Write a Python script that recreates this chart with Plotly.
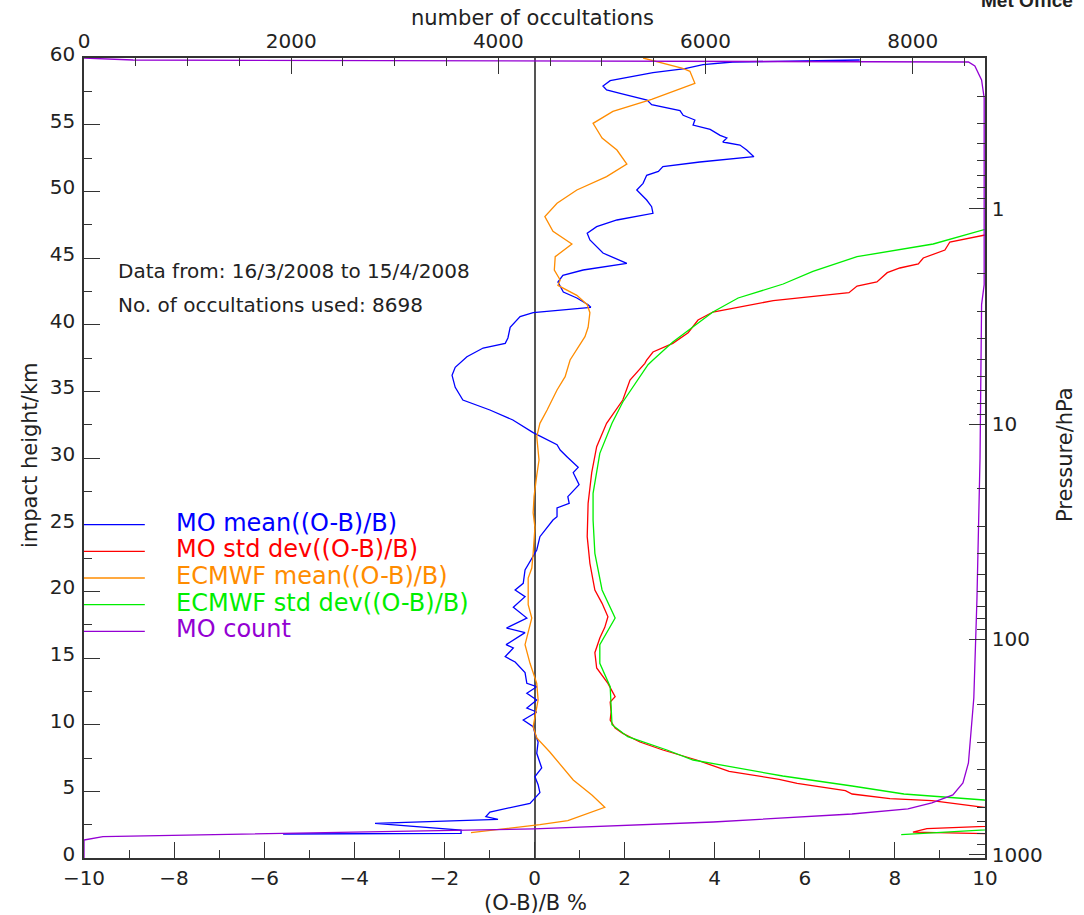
import plotly.graph_objects as go

# ---------------- data ----------------
# MO mean((O-B)/B) : impact height (km) and value (%)
mo_mean_h = [59.85, 59.7, 59.5, 59.2, 58.9, 58.3, 57.9, 57.6, 57.35, 56.85, 56.5, 56.05, 55.7,
             55.35, 54.97, 54.65, 54.2, 54.0, 53.7, 53.47, 53.1, 52.6, 52.2, 51.85, 51.5, 51.2,
             50.6, 50.1, 49.35, 48.85, 48.35, 47.85, 47.35, 46.85, 46.35, 45.37, 44.6, 44.1,
             43.7, 43.2, 42.45, 42.0, 41.5, 41.3, 40.9, 40.6, 39.8, 39.0, 38.6, 38.25, 37.6,
             36.8, 36.2, 35.3, 34.35, 33.6, 32.85, 31.9, 31.0, 30.6, 30.1, 29.3, 28.9, 28.0,
             27.1, 26.6, 26.25, 25.6, 25.35, 24.1, 23.1, 21.6, 20.6, 20.1, 19.6, 18.8, 18.0,
             17.25, 16.9, 16.0, 15.75, 15.1, 14.7, 13.9, 13.1, 12.85, 12.35, 11.85, 11.25,
             10.95, 10.35, 9.85, 9.35, 8.7, 7.85, 6.75, 6.1, 5.5, 4.9, 4.35, 4.1, 3.45, 3.1,
             2.9, 2.6, 2.1, 1.85, 1.8]
mo_mean_v = [7.22, 4.4, 3.74, 3.34, 2.63, 1.68, 1.52, 1.6, 1.9, 2.5, 2.6, 3.23, 3.3,
             3.56, 3.52, 3.9, 4.12, 4.27, 4.18, 4.56, 4.71, 4.87, 3.67, 2.85, 2.75, 2.49,
             2.41, 2.27, 2.49, 2.6, 2.63, 1.83, 1.38, 1.17, 1.23, 1.52, 2.05, 1.08,
             0.63, 0.52, 0.64, 0.94, 1.19, 1.25, -0.03, -0.32, -0.54, -0.59, -0.65, -1.14, -1.5,
             -1.76, -1.83, -1.76, -1.59, -0.99, -0.48, -0.03, 0.5, 0.57, 0.72, 0.97, 0.86, 0.99,
             0.74, 0.77, 0.5, 0.5, 0.41, 0.12, 0.05, -0.21, -0.25, -0.43, -0.21, -0.47, -0.17,
             -0.62, -0.21, -0.63, -0.47, -0.65, -0.43, -0.21, -0.17, 0.05, -0.17, 0.05, -0.17,
             0.05, -0.25, -0.03, 0.01, 0.08, 0.05, 0.16, 0.01, 0.08, 0.12, -0.03, -0.1, -0.99, -1.08,
             -0.81, -3.54, -1.63, -1.63, -5.58]

# MO std dev((O-B)/B)
mo_std_h = [47.4, 46.7, 46.2, 45.6, 45.0, 44.55, 44.25, 43.9, 43.2, 42.9, 42.4, 41.8, 41.3,
            40.95, 40.35, 39.4, 38.6, 37.95, 37.35, 37.1, 35.85, 34.35, 32.6, 30.85, 28.9,
            26.6, 24.1, 22.1, 20.1, 19.1, 18.1, 17.3, 16.5, 15.4, 14.25, 13.6, 13.1, 12.1,
            11.7, 10.95, 10.35, 9.75, 9.35, 8.7, 8.1, 7.35, 6.5, 5.9, 5.6, 5.05, 4.8, 4.45,
            4.3, 3.8, 3.6, 2.5, 2.35, 2.2, 1.94, 1.83, 1.75]
mo_std_v = [11.0, 9.96, 9.22, 9.11, 8.63, 8.52, 8.11, 7.83, 7.6, 7.16, 6.98, 5.3, 4.56,
            3.96, 3.63, 3.41, 3.07, 2.63, 2.49, 2.45, 2.12, 1.96, 1.6, 1.38, 1.27,
            1.19, 1.17, 1.23, 1.34, 1.5, 1.63, 1.56, 1.45, 1.34, 1.38, 1.52, 1.63, 1.79,
            1.68, 1.7, 1.68, 1.79, 1.96, 2.34, 2.85, 3.6, 4.32, 5.43, 5.83, 6.9, 7.05, 7.89,
            8.82, 9.98, 11.0, 11.0, 9.98, 8.71, 8.4, 9.98, 11.0]

# ECMWF mean((O-B)/B)
ec_mean_h = [60.0, 59.25, 59.0, 58.1, 56.9, 56.0, 55.1, 54.0, 53.1, 52.05, 51.1, 50.1, 49.1,
             48.1, 47.0, 46.05, 45.1, 44.1, 43.35, 42.95, 42.2, 41.5, 40.9, 39.8, 39.1, 38.1,
             37.35, 36.1, 35.1, 33.6, 32.6, 31.6, 29.85, 28.7, 27.1, 25.9, 24.8, 22.85, 21.75,
             21.0, 19.0, 18.0, 16.0, 14.6, 13.1, 11.85, 9.85, 9.0, 7.95, 5.85, 4.7, 3.8, 2.8,
             2.5, 1.9]
ec_mean_v = [2.41, 3.27, 3.45, 3.56, 2.6, 1.74, 1.3, 1.5, 1.83, 2.05, 1.6, 0.94, 0.5,
             0.23, 0.41, 0.83, 0.46, 0.44, 0.57, 0.52, 0.94, 1.17, 1.23, 1.19, 1.12, 0.94,
             0.79, 0.68, 0.5, 0.28, 0.12, 0.05, 0.1, 0.05, -0.01, -0.03, 0.01, -0.03, -0.06,
             -0.14, -0.14, -0.06, -0.21, -0.1, 0.05, 0.08, -0.03, 0.05, 0.34, 0.86, 1.28, 1.56, 0.74,
             0.12, -1.41]

# ECMWF std dev((O-B)/B)
ec_std_h = [48.1, 47.1, 46.05, 45.1, 44.0, 43.05, 42.0, 40.95, 38.7, 37.35, 37.0, 34.2, 32.6,
            30.35, 27.35, 25.35, 22.85, 20.1, 18.0, 16.0, 14.6, 12.85, 10.0, 9.1, 8.1, 7.35,
            6.9, 6.15, 5.4, 4.8, 4.35, 4.1, 2.3, 2.1, 1.75]
ec_std_v = [11.0, 9.96, 8.85, 7.16, 6.18, 5.52, 4.52, 3.96, 3.07, 2.63, 2.52, 1.96, 1.72,
            1.45, 1.3, 1.3, 1.34, 1.5, 1.79, 1.45, 1.45, 1.68, 1.72, 2.07, 2.94, 3.52,
            4.27, 5.51, 7.05, 8.2, 9.98, 11.0, 11.0, 9.98, 8.14]

# MO count (number of occultations)
mo_count_h = [0.0, 1.35, 1.6, 2.18, 2.7, 3.3, 3.68, 4.13, 4.73, 5.63, 7.13, 9.0, 12.0, 19.35,
              30.0, 41.5, 43.0, 57.0, 58.35, 59.4, 59.7, 59.85, 60.0]
mo_count_n = [0, 0, 183, 4344, 6073, 7413, 7954, 8185, 8388, 8485, 8538, 8560, 8590, 8620,
              8650, 8665, 8690, 8690, 8665, 8600, 8538, 473, 0]

n_occ = 8698
legend_names = ["MO mean((O-B)/B)", "MO std dev((O-B)/B)", "ECMWF mean((O-B)/B)",
                "ECMWF std dev((O-B)/B)", "MO count"]
legend_heights = [25, 23, 21, 19, 17]
info_lines = ["Data from: 16/3/2008 to 15/4/2008", "No. of occultations used: " + str(n_occ)]
pressure_ticks = [1, 10, 100, 1000]
axis_titles = {"bottom": "(O-B)/B %", "top": "number of occultations",
               "left": "impact height/km", "right": "Pressure/hPa"}

# ---------------- styling ----------------
colors = ["#0000ff", "#ff0000", "#ff8c00", "#00ee00", "#9400d3"]
FONT = "DejaVu Sans"
AX = "#333333"
TXT = "#222222"

fig = go.Figure()
series = [(mo_mean_v, mo_mean_h), (mo_std_v, mo_std_h), (ec_mean_v, ec_mean_h), (ec_std_v, ec_std_h)]
for (xv, yv), name, c in zip(series, legend_names[:4], colors[:4]):
    fig.add_trace(go.Scatter(x=xv, y=yv, mode="lines", name=name,
                             line=dict(color=c, width=1.3), showlegend=False))
fig.add_trace(go.Scatter(x=mo_count_n, y=mo_count_h, mode="lines", name=legend_names[4],
                         xaxis="x2", yaxis="y", line=dict(color=colors[4], width=1.3),
                         showlegend=False))
# carrier for the pressure axis
fig.add_trace(go.Scatter(x=[None], y=[None], xaxis="x", yaxis="y2", mode="lines",
                         showlegend=False, hoverinfo="skip"))

tickfont = dict(family=FONT, size=20, color=TXT)
titlefont = dict(family=FONT, size=21, color=TXT)

fig.update_layout(
    width=1084, height=915,
    margin=dict(l=84, r=99, t=58, b=57),
    paper_bgcolor="white", plot_bgcolor="white",
    font=dict(family=FONT, color=TXT),
    xaxis=dict(range=[-10, 10], dtick=2, tick0=0, ticks="inside", ticklen=16, tickwidth=1.3,
               tickcolor=AX, showline=True, linecolor=AX, linewidth=1.5, mirror=False,
               showgrid=False, zeroline=True, zerolinecolor="#555555", zerolinewidth=1.5,
               tickfont=tickfont, ticklabelstandoff=1,
               minor=dict(dtick=1, ticks="inside", ticklen=8, tickcolor=AX, showgrid=False),
               automargin=False),
    xaxis2=dict(range=[0, n_occ], overlaying="x", side="top", anchor="y", dtick=2000, tick0=0,
                ticks="inside", ticklen=16, tickwidth=1.3, tickcolor=AX, showline=True,
                linecolor=AX, linewidth=1.5, showgrid=False, zeroline=False,
                tickfont=tickfont, ticklabelstandoff=0,
                minor=dict(dtick=500, ticks="inside", ticklen=8, tickcolor=AX, showgrid=False),
                automargin=False),
    yaxis=dict(range=[0, 60], dtick=5, tick0=0, ticks="inside", ticklen=16, tickwidth=1.3,
               tickcolor=AX, showline=True, linecolor=AX, linewidth=1.5, showgrid=False,
               zeroline=False, tickfont=tickfont, ticklabelstandoff=3, ticklabelshift=-4,
               minor=dict(dtick=2.5, ticks="inside", ticklen=8, tickcolor=AX, showgrid=False),
               automargin=False),
    yaxis2=dict(type="log", range=[3.015, -0.70], overlaying="y", side="right", anchor="x",
                tickmode="array", tickvals=pressure_ticks, ticktext=[str(p) for p in pressure_ticks],
                ticks="inside", ticklen=16, tickwidth=1.3, tickcolor=AX, showline=True,
                linecolor=AX, linewidth=1.5, showgrid=False, zeroline=False,
                tickfont=tickfont, ticklabelstandoff=1,
                minor=dict(dtick="D1", ticks="inside", ticklen=8, tickcolor=AX, showgrid=False),
                automargin=False),
)

# axis titles as paper-anchored texts
fig.add_annotation(x=0.5006, y=-0.05625, xref="paper", yref="paper", text=axis_titles["bottom"],
                   showarrow=False, xanchor="center", yanchor="middle", font=titlefont)
fig.add_annotation(x=0.4983, y=1.05, xref="paper", yref="paper", text=axis_titles["top"],
                   showarrow=False, xanchor="center", yanchor="middle", font=titlefont)
fig.add_annotation(x=-0.0599, y=0.50375, xref="paper", yref="paper", text=axis_titles["left"],
                   showarrow=False, xanchor="center", yanchor="middle", textangle=-90,
                   font=titlefont)
fig.add_annotation(x=1.0888, y=0.50375, xref="paper", yref="paper", text=axis_titles["right"],
                   showarrow=False, xanchor="center", yanchor="middle", textangle=-90,
                   font=titlefont)

# legend: short line samples at fixed heights plus coloured labels
for name, c, hgt in zip(legend_names, colors, legend_heights):
    fig.add_shape(type="line", xref="x", yref="y", x0=-10, x1=-8.65, y0=hgt, y1=hgt,
                  line=dict(color=c, width=1.3))
    fig.add_annotation(x=-8.0, y=hgt + 0.15, xref="x", yref="y", text=name, showarrow=False,
                       xanchor="left", yanchor="middle",
                       font=dict(family=FONT, size=24, color=c))

for txt, hgt in zip(info_lines, [44.0, 41.5]):
    fig.add_annotation(x=-9.3, y=hgt, xref="x", yref="y", text=txt, showarrow=False,
                       xanchor="left", yanchor="middle",
                       font=dict(family=FONT, size=20, color=TXT))

fig.add_annotation(x=1.0466, y=1.0716, xref="paper", yref="paper", text="<b>Met Office</b>",
                   showarrow=False, xanchor="center", yanchor="middle",
                   font=dict(family="Liberation Sans", size=19, color="#222222"))

fig.write_html("out.html")
